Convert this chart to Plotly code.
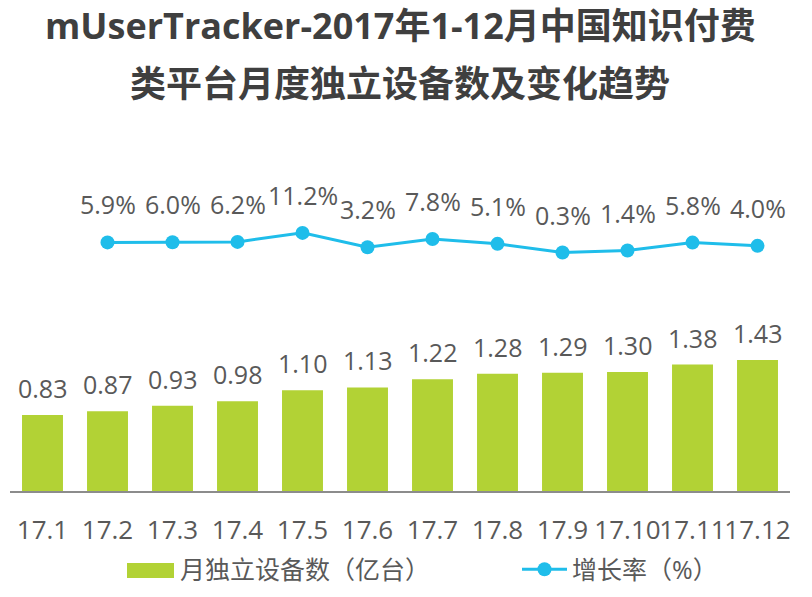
import plotly.graph_objects as go

months = ["17.1", "17.2", "17.3", "17.4", "17.5", "17.6", "17.7", "17.8", "17.9", "17.10", "17.11", "17.12"]
devices = [0.83, 0.87, 0.93, 0.98, 1.10, 1.13, 1.22, 1.28, 1.29, 1.30, 1.38, 1.43]
growth_months = months[1:]
growth = [5.9, 6.0, 6.2, 11.2, 3.2, 7.8, 5.1, 0.3, 1.4, 5.8, 4.0]
growth_labels = ["5.9%", "6.0%", "6.2%", "11.2%", "3.2%", "7.8%", "5.1%", "0.3%", "1.4%", "5.8%", "4.0%"]
device_labels = ["0.83", "0.87", "0.93", "0.98", "1.10", "1.13", "1.22", "1.28", "1.29", "1.30", "1.38", "1.43"]

BAR_COLOR = "#B2D235"
LINE_COLOR = "#1FBDEA"
TEXT_COLOR = "#595959"
TITLE_COLOR = "#3F3F3F"
FONT = "Open Sans, Noto Sans CJK SC, sans-serif"

W, H = 812, 597
L, R, T, B = 10, 22, 150, 106
plot_h = H - T - B
plot_w = W - L - R

fig = go.Figure()
fig.add_trace(go.Bar(
    x=months, y=devices, name="月独立设备数（亿台）",
    marker=dict(color=BAR_COLOR, line=dict(width=0)),
    width=0.63, yaxis="y", hoverinfo="skip", legend="legend",
))
fig.add_trace(go.Scatter(
    x=growth_months, y=growth, name="增长率（%）",
    mode="lines+markers", line=dict(color=LINE_COLOR, width=3),
    marker=dict(color=LINE_COLOR, size=14), yaxis="y2", hoverinfo="skip", legend="legend2",
))

annotations = []
# category axis: annotation x given as category index
for i, (v, lab) in enumerate(zip(devices, device_labels)):
    annotations.append(dict(x=i, y=v, xref="x", yref="y", text=lab, showarrow=False,
                            yanchor="middle", yshift=27,
                            font=dict(size=25, color=TEXT_COLOR, family=FONT)))
for m, v, lab in zip(growth_months, growth, growth_labels):
    i = months.index(m)
    annotations.append(dict(x=i, y=v, xref="x", yref="y2", text=lab, showarrow=False,
                            yanchor="middle", yshift=38,
                            font=dict(size=25, color=TEXT_COLOR, family=FONT)))

def py(pix):
    return (H - B - pix) / plot_h

def px(pix):
    return (pix - L) / plot_w

annotations.append(dict(x=0.5, y=py(28), xref="paper", yref="paper", showarrow=False,
                        text="<b>mUserTracker-2017年1-12月中国知识付费</b>", yanchor="middle",
                        yshift=3, font=dict(size=36, color=TITLE_COLOR, family=FONT)))
annotations.append(dict(x=0.5, y=py(85), xref="paper", yref="paper", showarrow=False,
                        text="<b>类平台月度独立设备数及变化趋势</b>", yanchor="middle",
                        yshift=1, font=dict(size=36, color=TITLE_COLOR, family=FONT)))

bar_scale = 91.6  # px per unit
line_scale = 1.8  # px per %
bar_top = plot_h / bar_scale
line_bottom = 0.3 - (H - B - 252.5) / line_scale
line_top = 0.3 + (252.5 - T) / line_scale

# wide legend swatch for the bar series (legend decoration)
shapes = [dict(type="rect", xref="paper", yref="paper", x0=px(127), x1=px(174),
               y0=py(578), y1=py(563), fillcolor=BAR_COLOR, line=dict(width=0), layer="above")]

legend_font = dict(size=25, color=TEXT_COLOR, family=FONT)
fig.update_layout(
    width=W, height=H,
    margin=dict(l=L, r=R, t=T, b=B, autoexpand=False),
    paper_bgcolor="white", plot_bgcolor="white",
    font=dict(family=FONT, color=TEXT_COLOR),
    xaxis=dict(type="category", range=[-0.5, len(months) - 0.5], showline=True,
               linecolor="#8C8C8C", linewidth=2, showgrid=False, tickangle=0,
               ticks="", tickfont=dict(size=26, color=TEXT_COLOR), ticklabelstandoff=15,
               fixedrange=True),
    yaxis=dict(range=[0, bar_top], visible=False, showgrid=False),
    yaxis2=dict(range=[line_bottom, line_top], overlaying="y", visible=False, showgrid=False),
    showlegend=True,
    legend=dict(orientation="h", x=px(125), xanchor="left", y=py(569.5), yanchor="middle",
                font=legend_font, itemwidth=45, bgcolor="rgba(0,0,0,0)"),
    legend2=dict(orientation="h", x=px(517), xanchor="left", y=py(569.5), yanchor="middle",
                 font=legend_font, itemwidth=45, bgcolor="rgba(0,0,0,0)"),
    annotations=annotations,
    shapes=shapes,
)

fig.write_html("out.html")
